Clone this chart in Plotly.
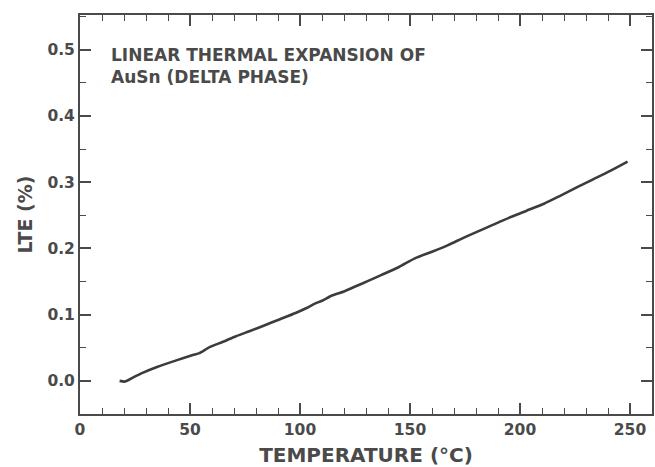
import plotly.graph_objects as go

temperature_c = [18, 20.5, 24, 28.7, 35, 43.8, 51.3, 54.3, 58.9, 65, 70.9, 77, 82.9, 90, 98, 103, 107,
                 110, 114.5, 120, 125.1, 131, 137.1, 145, 152.2, 160, 167.3, 175, 183.8, 190, 195.8,
                 203, 210.9, 218, 226, 233, 241, 248.9]
lte_pct = [0.000, -0.001, 0.005, 0.0125, 0.021, 0.031, 0.039, 0.042, 0.051, 0.059, 0.0675, 0.075,
           0.0825, 0.092, 0.1025, 0.110, 0.117, 0.121, 0.129, 0.135, 0.1425, 0.151, 0.160, 0.172,
           0.185, 0.195, 0.205, 0.217, 0.230, 0.239, 0.2475, 0.257, 0.2675, 0.279, 0.2925, 0.304,
           0.317, 0.331]

x_ticks = [0, 50, 100, 150, 200, 250]
y_ticks = [0.0, 0.1, 0.2, 0.3, 0.4, 0.5]
y_tick_labels = ["0.0", "0.1", "0.2", "0.3", "0.4", "0.5"]
title_lines = ["LINEAR THERMAL EXPANSION OF", "AuSn (DELTA PHASE)"]

INK = "#4a4a4a"
FONT = "DejaVu Sans"

fig = go.Figure()
fig.add_trace(go.Scatter(x=temperature_c, y=lte_pct, mode="lines",
                         line=dict(color="#3c3c3c", width=2.6, shape="spline", smoothing=0.6),
                         showlegend=False, hoverinfo="skip"))

axis_common = dict(showgrid=False, zeroline=False, showline=True, linecolor=INK, linewidth=2,
                   mirror="ticks", ticks="inside", ticklen=11, tickwidth=1.6, tickcolor=INK,
                   tickfont=dict(family=FONT, size=15.5, color=INK, weight="bold"))

fig.update_xaxes(range=[0, 260], tickvals=x_ticks, ticktext=[str(v) for v in x_ticks],
                 minor=dict(dtick=10, ticks="inside", ticklen=6, tickwidth=1.4, tickcolor=INK),
                 title=dict(text="TEMPERATURE (°C)", font=dict(family=FONT, size=20, color=INK, weight="bold"),
                            standoff=13),
                 **axis_common)
fig.update_yaxes(range=[-0.05, 0.5525], tickvals=y_ticks, ticktext=y_tick_labels,
                 minor=dict(dtick=0.05, tick0=0, ticks="inside", ticklen=6, tickwidth=1.4, tickcolor=INK),
                 title=dict(text="LTE (%)", font=dict(family=FONT, size=19, color=INK, weight="bold"),
                            standoff=10),
                 **axis_common)

fig.add_annotation(xref="paper", yref="paper", x=0.051, y=0.873, xanchor="left", yanchor="middle",
                   text="<br>".join(title_lines), showarrow=False, align="left",
                   font=dict(family=FONT, size=17, color=INK, weight="bold"))

fig.update_layout(width=655, height=467, margin=dict(l=80, r=1, t=15, b=51),
                  paper_bgcolor="white", plot_bgcolor="white")

fig.write_html("out.html")
